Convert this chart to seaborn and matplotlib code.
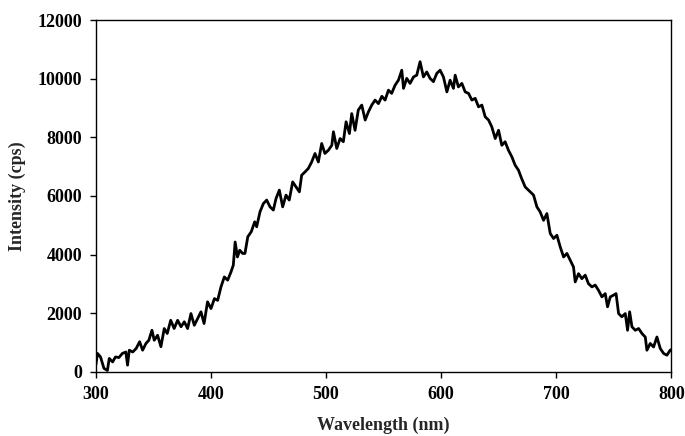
import pandas as pd
import matplotlib
matplotlib.use("Agg")
import matplotlib.pyplot as plt
import seaborn as sns

# Spectrum
wavelength = [
    300, 301.4, 304, 307, 310, 311.6, 314.5, 317, 320, 323, 326, 327.5, 329, 332, 335,
    338, 340.6, 343.5, 346, 348.7, 350.7, 353.6, 356.5, 359.4, 362, 365, 368, 371,
    374, 376.8, 379.7, 382.6, 385.5, 388.4, 391.3, 394, 397, 400, 403, 405.8, 408.7,
    411.6, 414.5, 417.4, 419.4, 421, 423, 425, 427.5, 429.5, 432, 435, 438, 439.7,
    442.6, 445.5, 448.4, 451.3, 454.2, 456.5, 459.4, 462.3, 465.2, 468, 471, 473.9,
    476.8, 478.8, 481.7, 484.6, 487.5, 490.4, 493.3, 496.2, 499, 502, 505, 506.4,
    509.3, 512.2, 515, 517.4, 520.3, 522.3, 525.2, 528, 531, 534, 536.8, 539.7, 542.6,
    545.5, 548.5, 551.3, 554.2, 557, 560, 562.9, 565.8, 567.3, 570.1, 573, 576, 578.8,
    581.7, 584.6, 587.5, 590.4, 593.3, 596.2, 599.1, 602, 605, 607.8, 610.7, 612.2,
    615, 618, 620.9, 623.8, 626.7, 629.6, 632.5, 635.4, 638.3, 641.2, 644, 647, 649.9,
    652.7, 655.6, 658.5, 661.4, 664.3, 667.2, 670, 673, 677.4, 680.3, 683.2, 686, 689,
    691.9, 694.8, 697.7, 700.6, 703.5, 706.4, 709.3, 712.2, 715, 716.5, 719.4, 722.3,
    725.2, 728, 731, 733.9, 736.8, 739.7, 742.6, 744.6, 747, 749.9, 752, 754.2, 757,
    760, 762, 763.8, 765.8, 768.7, 771.6, 774.5, 777.4, 778.8, 781.7, 784.6, 787.5,
    790.4, 793.3, 796.2, 799, 800,
]
intensity = [
    250, 630, 510, 120, 50, 460, 340, 510, 490, 630, 680, 230, 740, 680, 800,
    1030, 740, 970, 1080, 1420, 1080, 1250, 860, 1480, 1310, 1760, 1480, 1760,
    1540, 1710, 1480, 1990, 1590, 1820, 2050, 1650, 2390, 2160, 2500, 2440, 2900,
    3240, 3130, 3410, 3640, 4430, 3920, 4150, 4040, 4040, 4610, 4780, 5120, 4950,
    5460, 5740, 5860, 5630, 5520, 5910, 6200, 5630, 6030, 5860, 6480, 6310,
    6140, 6710, 6820, 6940, 7160, 7450, 7160, 7790, 7450, 7560, 7730, 8190,
    7620, 7960, 7850, 8530, 8130, 8810, 8240, 8930, 9100, 8590, 8870, 9100, 9270,
    9150, 9400, 9270, 9610, 9500, 9780, 9950, 10290, 9670, 10010, 9840, 10060, 10120,
    10580, 10060, 10230, 10010, 9900, 10180, 10290, 10060, 9550, 9950, 9670, 10120,
    9720, 9840, 9550, 9500, 9270, 9330, 9040, 9100, 8700, 8590, 8360, 7960, 8240,
    7730, 7850, 7560, 7340, 7050, 6880, 6590, 6310, 6140, 6030, 5630, 5460, 5170,
    5400, 4720, 4550, 4660, 4260, 3920, 4040, 3810, 3580, 3070, 3350, 3180,
    3300, 3010, 2900, 2960, 2780, 2560, 2670, 2220, 2560, 2620, 2670, 1990, 1880,
    1990, 1420, 2050, 1540, 1420, 1480, 1310, 1190, 740, 970, 850, 1190,
    800, 630, 570, 740, 760,
]
x_ticks = [300, 400, 500, 600, 700, 800]
y_ticks = [0, 2000, 4000, 6000, 8000, 10000, 12000]

df = pd.DataFrame({"Wavelength": wavelength, "Intensity": intensity})

sns.set_theme(style="white")
plt.rcParams["font.family"] = ["Liberation Serif", "DejaVu Serif"]
plt.rcParams["font.weight"] = "bold"

fig = plt.figure(figsize=(6.85, 4.36), dpi=100)
ax = fig.add_axes([0.140, 0.147, 0.840, 0.807])

sns.lineplot(data=df, x="Wavelength", y="Intensity", color="black",
             linewidth=2.0, estimator=None, sort=False, ax=ax)

ax.set_xlim(300, 800)
ax.set_ylim(0, 12000)
ax.set_xticks(x_ticks)
ax.set_yticks(y_ticks)
ax.set_xticklabels([str(t) for t in x_ticks], fontsize=13, fontweight="bold")
ax.set_yticklabels([str(t) for t in y_ticks], fontsize=13, fontweight="bold")
ax.set_xlabel("Wavelength (nm)", fontsize=13, fontweight="bold", labelpad=10)
ax.set_ylabel("Intensity (cps)", fontsize=13, fontweight="bold", labelpad=8)

for side in ["left", "bottom", "top", "right"]:
    ax.spines[side].set_color("black")
    ax.spines[side].set_linewidth(1.0)
ax.tick_params(axis="both", which="major", direction="out", length=4,
               width=1.0, color="black", bottom=True, left=True, pad=6,
               labelcolor="black")
ax.grid(False)

fig.savefig("out.png", dpi=100)
